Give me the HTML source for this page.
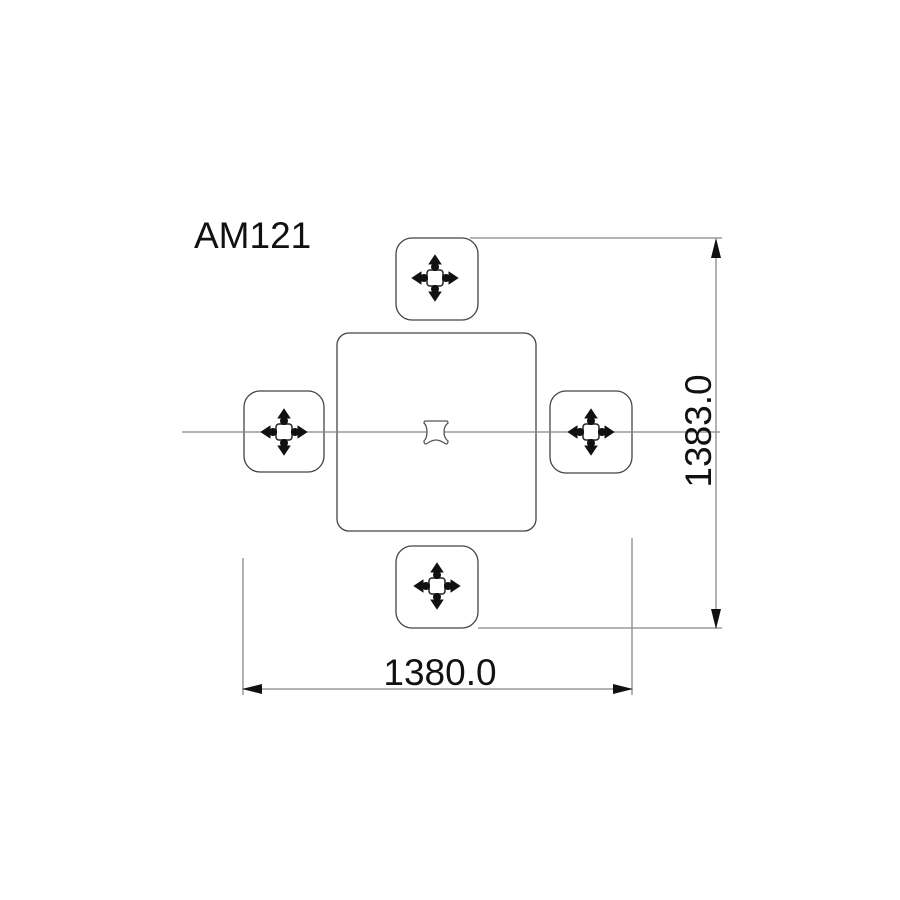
<!DOCTYPE html>
<html><head><style>body{margin:0;background:#fff}svg{display:block}</style></head>
<body>
<svg width="900" height="900" viewBox="0 0 900 900" xmlns="http://www.w3.org/2000/svg">
<defs>
<g id="ic">
  <rect x="-8" y="-8" width="16" height="16" rx="3" fill="#fff" stroke="#222" stroke-width="1.5"/>
  <g stroke="#111" stroke-width="3" fill="#111">
    <line x1="0" y1="-7" x2="0" y2="-18"/><line x1="0" y1="7" x2="0" y2="18"/>
    <line x1="-7" y1="0" x2="-18" y2="0"/><line x1="7" y1="0" x2="18" y2="0"/>
    <path d="M-4,-15 L0,-21 L4,-15Z"/><path d="M-4,15 L0,21 L4,15Z"/>
    <path d="M-15,-4 L-21,0 L-15,4Z"/><path d="M15,-4 L21,0 L15,4Z"/>
  </g>
  <g fill="#111"><circle cx="0" cy="-11" r="4"/><circle cx="0" cy="11" r="4"/><circle cx="-11" cy="0" r="4"/><circle cx="11" cy="0" r="4"/></g>
  <rect x="-5" y="-5" width="10" height="10" fill="#fff"/>
</g>
</defs>
<g fill="none" stroke="#444" stroke-width="1.3">
  <rect x="396" y="238" width="82" height="82" rx="16"/>
  <rect x="244" y="391" width="80" height="81" rx="16"/>
  <rect x="550" y="391" width="82" height="82" rx="16"/>
  <rect x="396" y="546" width="82" height="82" rx="16"/>
  <rect x="337" y="333" width="199" height="198" rx="12"/>
</g>
<g stroke="#888" stroke-width="1.3">
  <line x1="182" y1="432" x2="720" y2="432"/>
  <line x1="470" y1="238" x2="722" y2="238"/>
  <line x1="478" y1="628" x2="722" y2="628"/>
  <line x1="716" y1="240" x2="716" y2="628"/>
  <line x1="243" y1="558" x2="243" y2="695"/>
  <line x1="632" y1="538" x2="632" y2="695"/>
  <line x1="243" y1="689" x2="632" y2="689"/>
</g>
<g fill="#111">
  <path d="M716,238 L711,258 L721,258Z"/>
  <path d="M716,629 L711,609 L721,609Z"/>
  <path d="M242,689 L262,684 L262,694Z"/>
  <path d="M633,689 L613,684 L613,694Z"/>
</g>
<path d="M426,421 L446,421 Q448,421 448,423 Q444,426 444,432 Q444,438 448,441 Q448,444 446,444 Q440,440 436,440 Q432,440 426,444 Q424,444 424,441 Q427,438 427,432 Q427,426 424,423 Q424,421 426,421Z" fill="#fff" stroke="#555" stroke-width="1.3"/>
<use href="#ic" x="435" y="278"/>
<use href="#ic" x="284" y="432"/>
<use href="#ic" x="591" y="432"/>
<use href="#ic" x="437" y="586"/>
<g font-family="Liberation Sans, sans-serif" fill="#111" font-size="37">
  <text x="194" y="248">AM121</text>
  <text x="440" y="685" text-anchor="middle">1380.0</text>
  <text transform="translate(711,431) rotate(-90)" text-anchor="middle">1383.0</text>
</g>
</svg>
</body></html>
